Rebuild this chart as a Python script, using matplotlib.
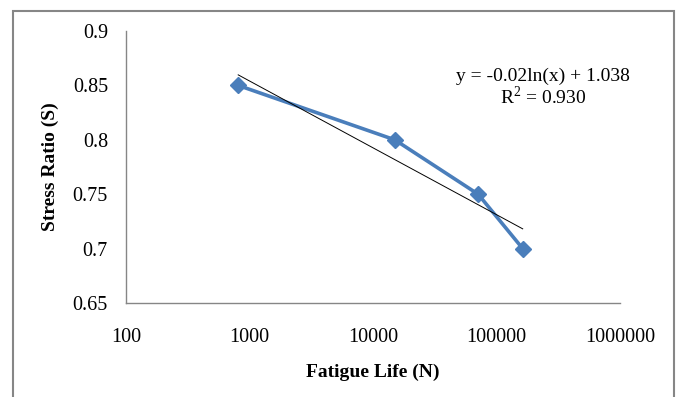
import numpy as np
import matplotlib
matplotlib.use("Agg")
import matplotlib.pyplot as plt
from matplotlib.patches import Rectangle

# fatigue data
fatigue_life = [810, 15000, 71000, 163000]
stress_ratio = [0.85, 0.80, 0.75, 0.70]
x_ticks = [100, 1000, 10000, 100000, 1000000]
y_ticks = [0.65, 0.7, 0.75, 0.8, 0.85, 0.9]
eq_text = "y = -0.02ln(x) + 1.038\nR$^{2}$ = 0.930"

plt.rcParams['font.family'] = ['Liberation Serif', 'DejaVu Serif']
plt.rcParams['mathtext.fontset'] = 'custom'
plt.rcParams['mathtext.rm'] = 'Liberation Serif'

fig = plt.figure(figsize=(6.8, 3.97), dpi=100)
ax = fig.add_axes([126/680, 1-303/397, (620-126)/680, (303-31)/397])

# outer chart border (runs off the bottom of the image)
fig.patches.append(Rectangle((13/680, -0.05), (674-13)/680, 1-11/397+0.05,
                             transform=fig.transFigure, fill=False,
                             edgecolor='#868686', lw=1.5))

ax.plot(fatigue_life, stress_ratio, color='#4A7EBB', lw=2.6, marker='D',
        markersize=8, zorder=3)

# logarithmic trendline over the data range
lx = np.log(fatigue_life)
k, b = np.polyfit(lx, stress_ratio, 1)
xt = np.logspace(np.log10(fatigue_life[0]), np.log10(fatigue_life[-1]), 50)
ax.plot(xt, k*np.log(xt) + b, color='black', lw=0.7, zorder=4)

ax.set_xscale('log')
ax.set_xlim(100, 1000000)
ax.set_ylim(0.65, 0.9)
ax.set_xticks(x_ticks)
ax.set_xticklabels([str(v) for v in x_ticks])
ax.xaxis.set_minor_locator(matplotlib.ticker.NullLocator())
ax.set_yticks(y_ticks)
ax.set_yticklabels(['%g' % v for v in y_ticks])
ax.tick_params(axis='both', length=0, labelsize=14.5)
ax.tick_params(axis='x', pad=18)
ax.tick_params(axis='y', pad=13)

for s in ['top', 'right']:
    ax.spines[s].set_visible(False)
for s in ['left', 'bottom']:
    ax.spines[s].set_color('#868686')
    ax.spines[s].set_linewidth(1.0)

ax.set_xlabel('Fatigue Life (N)', fontsize=14, fontweight='bold', labelpad=12)
ax.set_ylabel('Stress Ratio (S)', fontsize=14, fontweight='bold', labelpad=10)

fig.text(543/680, 1-88/397, eq_text, ha='center', va='center', fontsize=14,
         linespacing=1.05)

fig.savefig('out.png', dpi=100)
